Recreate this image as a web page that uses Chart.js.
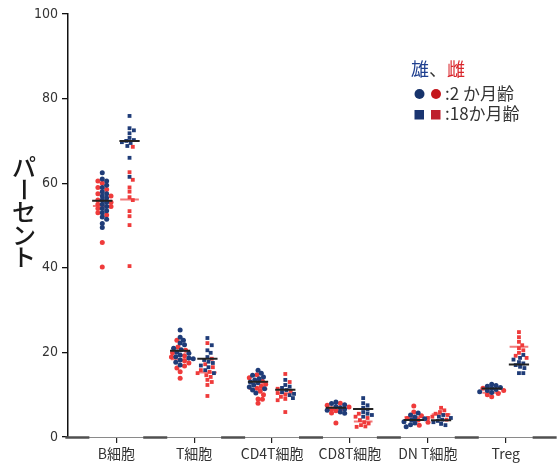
<!DOCTYPE html>
<html lang="ja">
<head>
<meta charset="UTF-8">
<title>パーセント</title>
<style>
  html, body { margin: 0; padding: 0; background: #fff; }
</style>
</head>
<body>
<canvas id="myChart" width="558" height="468"></canvas>
<script src="https://cdn.jsdelivr.net/npm/chart.js"></script>
<script>
// カテゴリ
const categories = ['B細胞', 'T細胞', 'CD4T細胞', 'CD8T細胞', 'DN T細胞', 'Treg'];
const yTicks = [0, 20, 40, 60, 80, 100];

// 2か月齢 (雄 / 雌) ・カテゴリ順
const male2m = [
  [62.5, 61, 60.5, 59.5, 59, 58, 57.5, 57, 56.5, 56, 55.5, 55, 54.5, 54, 53.5, 53, 52, 51.5, 50.5, 49.5],
  [25.3, 23.6, 22.9, 22.2, 21.8, 21, 20.6, 20.1, 19.8, 19.4, 19, 18.7, 18.5, 18.2, 17.7, 17],
  [15.8, 15.1, 14.6, 14.2, 13.8, 13.5, 13, 12.8, 12.3, 11.8, 11.4, 11.1, 10.4],
  [8.3, 7.9, 7.6, 7.2, 6.9, 6.6, 6.3, 5.9, 5.6],
  [5.7, 5.2, 4.7, 4.3, 4, 3.6, 3.3, 2.9, 2.4],
  [12.5, 12.2, 12, 11.7, 11.5, 11.2, 11, 10.7, 10.5]
];
const female2m = [
  [60.5, 60, 59, 58.5, 57.5, 57, 56, 55.5, 55, 54.5, 54, 53, 52.5, 46, 40.2],
  [22.9, 21.3, 20.5, 19.9, 19.2, 18.9, 18, 17.5, 16.8, 16.3, 15.4, 13.9],
  [14.7, 14, 13.2, 12.5, 12, 11.5, 10.8, 10, 9, 8.9, 8],
  [8, 7.5, 7.1, 6.7, 6.2, 5.7, 3.3],
  [7.3, 5.9, 5, 4.4, 4, 3.5, 2.8],
  [11.5, 11, 10.3, 10, 9.5]
];
// 18か月齢 (雄 / 雌)
const male18m = [
  [75.9, 73, 72.5, 71.8, 70.7, 70.2, 70, 69.7, 69.5, 68.8, 66, 61.5],
  [23.4, 21.7, 20.5, 19.9, 18.9, 18.2, 17.8, 17.5, 16.9, 16.5, 15.8, 15.1],
  [13.5, 12.3, 11.9, 11.6, 11.1, 10.6, 10.2, 9.9, 9.2],
  [9.2, 8, 7.5, 6.9, 6.5, 5.9, 5.5, 5.2, 4.8],
  [5.2, 4.8, 4.5, 4.1, 3.8, 3.5, 3.1, 2.8],
  [19.4, 18.7, 18.3, 17.7, 17.4, 17, 16.6, 16.3, 15.1, 15.1]
];
const female18m = [
  [68.6, 62.6, 60.8, 59, 58, 56.7, 56, 53.4, 52.2, 50.1, 40.4],
  [22.2, 18.5, 17.2, 16.5, 15.8, 15.4, 15.1, 14.6, 14.2, 13.5, 13, 12.3, 9.7],
  [14.9, 13, 11.4, 10.9, 10.4, 10, 9.5, 9, 8.7, 5.9],
  [5.5, 4.8, 4.5, 4, 3.5, 3.2, 2.8, 2.5, 2.4],
  [6.9, 6.3, 5.9, 5.5, 5.2, 4.8, 4.5, 4.1],
  [24.8, 23.6, 22.5, 21.7, 21, 20.5, 19.9, 19.2, 18.7]
];

const BLUE = '#1f3c78';
const RED = '#ef3b3b';
const OFF2M = -0.18, OFF18M = 0.17;

// 点が重ならないように横にずらす (beeswarm)
const PX_X = 78.5, PX_Y = 4.23, DOT = 4.1;
function swarm(lists, center) {
  const all = [];
  lists.forEach((vals, g) => vals.forEach(v => all.push({ g: g, y: v })));
  all.sort((a, b) => b.y - a.y);
  const placed = [];
  all.forEach(p => {
    p.py = p.y * PX_Y;
    p.px = 0;
    for (let k = 0; k < 60; k++) {
      const off = (k % 2 ? 1 : -1) * Math.ceil(k / 2) * 1.1;
      if (placed.every(q => Math.hypot(q.px - off, q.py - p.py) >= DOT)) { p.px = off; break; }
    }
    placed.push(p);
  });
  return lists.map((_, g) => all.filter(p => p.g === g).map(p => ({ x: center + p.px / PX_X, y: p.y })));
}

const ptsM2 = [], ptsF2 = [], ptsM18 = [], ptsF18 = [];
const meanM = [], meanF = [];
const mean = a => a.reduce((s, v) => s + v, 0) / a.length;
categories.forEach((c, i) => {
  const a = swarm([male2m[i], female2m[i]], i + OFF2M);
  ptsM2.push(...a[0]); ptsF2.push(...a[1]);
  const b = swarm([male18m[i], female18m[i]], i + OFF18M);
  ptsM18.push(...b[0]); ptsF18.push(...b[1]);
  [[OFF2M, male2m[i], female2m[i]], [OFF18M, male18m[i], female18m[i]]].forEach(([o, m, f]) => {
    const cx = i + o;
    meanM.push({ x: cx - 0.13, y: mean(m) }, { x: cx + 0.13, y: mean(m) }, { x: cx + 0.14, y: null });
    meanF.push({ x: cx - 0.12, y: mean(f) }, { x: cx + 0.12, y: mean(f) }, { x: cx + 0.13, y: null });
  });
});

// 下の軸線 (区切りごとに濃い線)
const baseLine = {
  id: 'baseLine',
  beforeDatasetsDraw(chart) {
    const { ctx, chartArea: a, scales: { x } } = chart;
    ctx.save();
    ctx.strokeStyle = '#8a8a8a';
    ctx.lineWidth = 1;
    ctx.beginPath();
    ctx.moveTo(a.left, a.bottom + 0.5);
    ctx.lineTo(a.right, a.bottom + 0.5);
    ctx.stroke();
    ctx.strokeStyle = '#505050';
    ctx.lineWidth = 2.5;
    for (let i = 0; i <= categories.length; i++) {
      const px = x.getPixelForValue(i - 0.5);
      ctx.beginPath();
      ctx.moveTo(px - 12, a.bottom + 0.5);
      ctx.lineTo(px + 12, a.bottom + 0.5);
      ctx.stroke();
    }
    ctx.restore();
  }
};

// 縦書きの軸タイトルと凡例
const labels = {
  id: 'labels',
  afterDraw(chart) {
    const ctx = chart.ctx;
    ctx.save();
    ctx.fillStyle = '#1a1a1a';
    ctx.font = '500 24px "Noto Sans CJK JP"';
    ctx.textAlign = 'center';
    ctx.textBaseline = 'middle';
    const title = 'パーセント';
    [...title].forEach((ch, i) => {
      const cy = 167 + i * 22.5;
      if (ch === 'ー') {
        ctx.save();
        ctx.translate(24, cy);
        ctx.rotate(Math.PI / 2);
        ctx.fillText(ch, 0, 0);
        ctx.restore();
      } else {
        ctx.fillText(ch, 24, cy);
      }
    });

    // 凡例
    ctx.textAlign = 'left';
    ctx.font = '18px "Noto Sans CJK JP"';
    let tx = 411;
    [['雄', '#1f3f8f'], ['、', '#333'], ['雌', '#d9262c']].forEach(([t, col]) => {
      ctx.fillStyle = col;
      ctx.fillText(t, tx, 69);
      tx += ctx.measureText(t).width;
    });
    ctx.fillStyle = '#16336b';
    ctx.beginPath(); ctx.arc(419.5, 94, 5, 0, Math.PI * 2); ctx.fill();
    ctx.fillStyle = '#c4161c';
    ctx.beginPath(); ctx.arc(436, 94, 5, 0, Math.PI * 2); ctx.fill();
    ctx.fillStyle = '#1a3470';
    ctx.fillRect(414.5, 110, 9.5, 9.5);
    ctx.fillStyle = '#be1e2d';
    ctx.fillRect(431, 110, 9.5, 9.5);
    ctx.fillStyle = '#333';
    ctx.font = '17px "Noto Sans CJK JP"';
    ctx.fillText(':2 か月齢', 445, 94);
    ctx.fillText(':18か月齢', 445, 114);
    ctx.restore();
  }
};

const pointSet = (label, data, color, shape, order) => ({
  type: 'scatter', label: label, data: data, order: order,
  backgroundColor: color, borderWidth: 0,
  pointStyle: shape, pointRadius: shape === 'rect' ? 2.7 : 2.5
});

new Chart(document.getElementById('myChart'), {
  type: 'scatter',
  data: {
    datasets: [
      { type: 'line', label: '雄 平均', data: meanM, order: 0, borderColor: '#222', borderWidth: 2, pointRadius: 0, spanGaps: false },
      pointSet('雄 2か月齢', ptsM2, BLUE, 'circle', 2),
      pointSet('雄 18か月齢', ptsM18, BLUE, 'rect', 2),
      pointSet('雌 2か月齢', ptsF2, RED, 'circle', 3),
      pointSet('雌 18か月齢', ptsF18, RED, 'rect', 3),
      { type: 'line', label: '雌 平均', data: meanF, order: 5, borderColor: '#f27a7a', borderWidth: 2, pointRadius: 0, spanGaps: false }
    ]
  },
  options: {
    responsive: false,
    animation: false,
    layout: { padding: { top: 14, right: 0, bottom: 0, left: 0 } },
    plugins: { legend: { display: false }, tooltip: { enabled: false } },
    scales: {
      x: {
        type: 'linear', min: -0.62, max: 5.62,
        afterBuildTicks: s => { s.ticks = categories.map((_, i) => ({ value: i })); },
        afterFit: s => { s.height = 31; },
        grid: { drawOnChartArea: false, drawTicks: true, tickLength: 6, tickColor: '#222', lineWidth: 1.2 },
        border: { display: false },
        ticks: {
          callback: v => categories[v],
          font: { family: '"Noto Sans CJK JP"', size: 14 },
          color: '#333', padding: 2, maxRotation: 0, autoSkip: false
        }
      },
      y: {
        min: 0, max: 100,
        afterBuildTicks: s => { s.ticks = yTicks.map(v => ({ value: v })); },
        afterFit: s => { s.width = 68; },
        grid: { drawOnChartArea: false, drawTicks: true, tickLength: 6, tickColor: '#111', lineWidth: 1.3 },
        border: { color: '#111', width: 1.5 },
        ticks: {
          font: { family: '"Liberation Sans Narrow", "DejaVu Sans Condensed"', size: 14 },
          color: '#333', padding: 4
        }
      }
    }
  },
  plugins: [baseLine, labels]
});
</script>
</body>
</html>
